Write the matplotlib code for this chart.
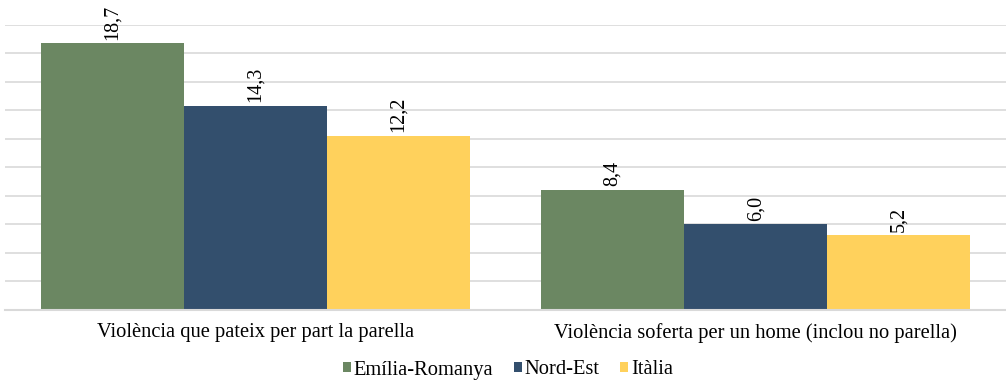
import matplotlib
matplotlib.use("Agg")
import matplotlib.pyplot as plt
import numpy as np

categories = ["Violència que pateix per part la parella",
              "Violència soferta per un home (inclou no parella)"]
series_names = ["Emília-Romanya", "Nord-Est", "Itàlia"]
emilia = [18.7, 8.4]
nord_est = [14.3, 6.0]
italia = [12.2, 5.2]
colors = ["#6b8762", "#334f6d", "#ffd15c"]

plt.rcParams["font.family"] = ["Liberation Serif", "DejaVu Serif"]

fig = plt.figure(figsize=(10.06, 3.81), dpi=100)
ax = fig.add_axes([5 / 1006, 1 - 309.5 / 381, 1001 / 1006, (309.5 - 24.5) / 381])

x = np.arange(len(categories))
width = 0.286
for i, (name, vals) in enumerate(zip(series_names, [emilia, nord_est, italia])):
    bars = ax.bar(x + (i - 1) * width, vals, width, color=colors[i], label=name, zorder=3)
    for b, v in zip(bars, vals):
        ax.annotate(f"{v:.1f}".replace(".", ","),
                    (b.get_x() + b.get_width() / 2, v),
                    xytext=(0, 2.5), textcoords="offset points",
                    rotation=90, ha="center", va="bottom",
                    fontsize=14.5, color="#000000", annotation_clip=False)

ax.set_xlim(-0.5, 1.5)
ax.set_ylim(0, 20)
ax.set_yticks(np.arange(0, 21, 2))
ax.yaxis.grid(True, color="#d9d9d9", linewidth=1.2, zorder=0)
ax.tick_params(axis="y", left=False, labelleft=False)
ax.tick_params(axis="x", bottom=False, labelsize=14.8, pad=6)
ax.set_xticks(x)
ax.set_xticklabels(categories)
for s in ["top", "right", "left"]:
    ax.spines[s].set_visible(False)
ax.spines["bottom"].set_color("#d9d9d9")
ax.spines["bottom"].set_linewidth(1.5)
ax.spines["bottom"].set_zorder(4)

leg = fig.legend(loc="center", bbox_to_anchor=(508 / 1006, 1 - 370 / 381),
                 ncol=3, frameon=False, fontsize=14.8,
                 handlelength=0.4, handleheight=0.4, handletextpad=0.12,
                 columnspacing=1.0)

fig.savefig("out.png", dpi=100)
